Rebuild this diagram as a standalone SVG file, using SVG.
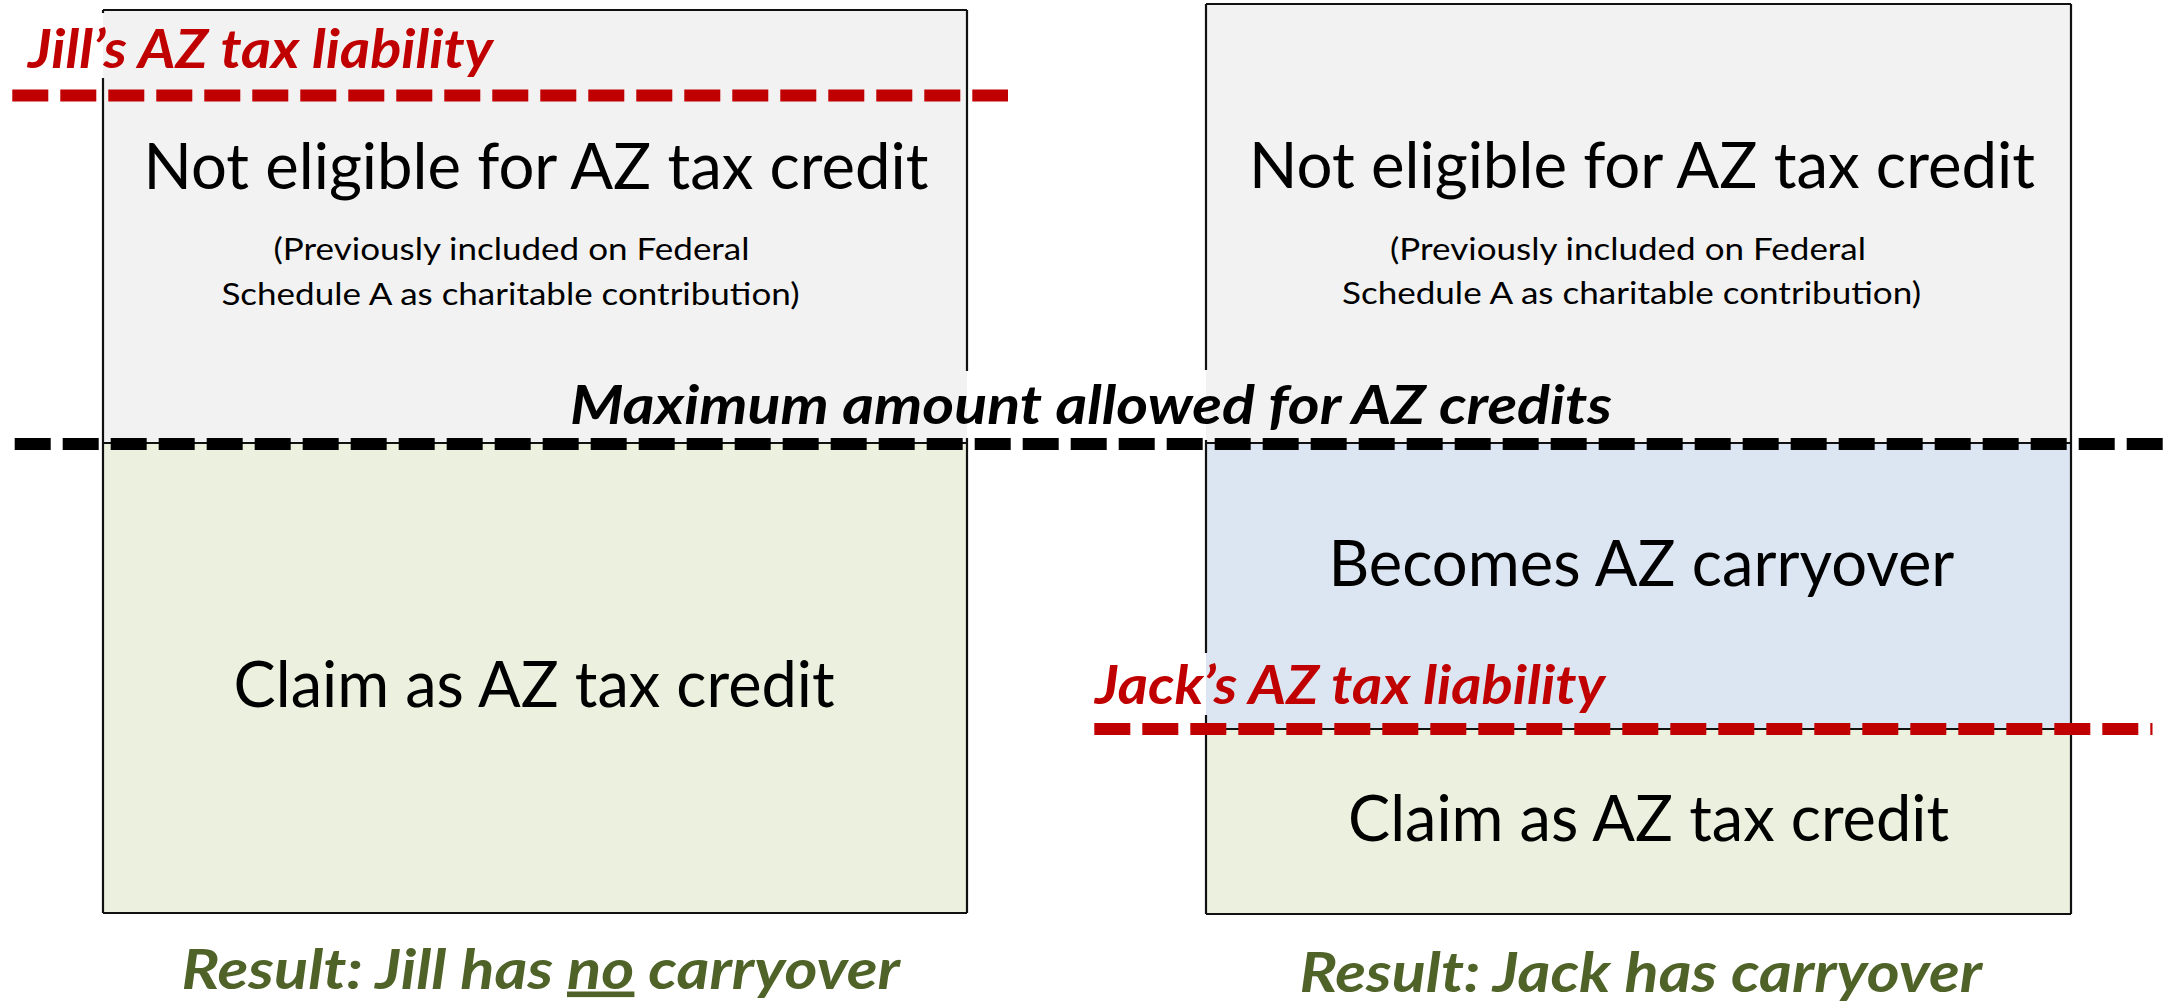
<svg xmlns="http://www.w3.org/2000/svg" width="2170" height="1003" viewBox="0 0 2170 1003">
  <defs>
    <style>
      .gray { fill: #F2F2F2; }
      .green { fill: #EBF1DE; }
      .blue { fill: #DCE6F2; }
      .border { fill: none; stroke: #111111; stroke-width: 2.2; }
      .divider { fill: none; stroke: #111111; stroke-width: 1.8; }
      .dash-red { fill: none; stroke: #C00000; stroke-width: 12; stroke-dasharray: 36 12; }
      .dash-black { fill: none; stroke: #000000; stroke-width: 12; stroke-dasharray: 36 12; }
      .label { font-family: Lato, "Liberation Sans", sans-serif; font-weight: bold; font-style: italic; font-size: 53px; }
      .red { fill: #C00000; }
      .black { fill: #000000; }
      .big { font-family: Lato, "Liberation Sans", sans-serif; font-size: 63px; fill: #000000; }
      .small { font-family: Lato, "Liberation Sans", sans-serif; font-size: 31px; fill: #000000; }
      .result { font-family: Lato, "Liberation Sans", sans-serif; font-weight: bold; font-style: italic; font-size: 56px; fill: #4F6228; }
    </style>
  </defs>
  <rect width="2170" height="1003" fill="#FFFFFF"/>

  <g id="jill-box">
    <rect class="gray" x="103" y="10" width="864" height="433"/>
    <rect class="green" x="103" y="443" width="864" height="470"/>
    <path class="divider" d="M103,443 H967"/>
    <path class="border" d="M103,10 H967 M967,10 V371 M967,438 V913 M103,913 H967 M103,10 V13 M103,78 V913"/>
    <text class="big" x="143.5" y="189" textLength="785" lengthAdjust="spacingAndGlyphs">Not eligible for AZ tax credit</text>
    <text class="small" x="273.5" y="260" textLength="476" lengthAdjust="spacingAndGlyphs">(Previously included on Federal</text>
    <text class="small" x="221.5" y="305" textLength="578" lengthAdjust="spacingAndGlyphs">Schedule A as charitable contribution)</text>
    <text class="big" x="233.6" y="707" textLength="601" lengthAdjust="spacingAndGlyphs">Claim as AZ tax credit</text>
  </g>

  <g id="jack-box">
    <rect class="gray" x="1206" y="4" width="865" height="439"/>
    <rect class="blue" x="1206" y="443" width="865" height="286"/>
    <rect class="green" x="1206" y="729" width="865" height="185"/>
    <path class="divider" d="M1206,443 H2071 M1206,729 H2071"/>
    <path class="border" d="M1206,4 H2071 M2071,4 V914 M1206,914 H2071 M1206,4 V370 M1206,440 V653 M1206,715 V914"/>
    <text class="big" x="1249" y="188" textLength="786" lengthAdjust="spacingAndGlyphs">Not eligible for AZ tax credit</text>
    <text class="small" x="1390" y="260" textLength="476" lengthAdjust="spacingAndGlyphs">(Previously included on Federal</text>
    <text class="small" x="1342" y="304" textLength="579" lengthAdjust="spacingAndGlyphs">Schedule A as charitable contribution)</text>
    <text class="big" x="1328.4" y="586" textLength="626" lengthAdjust="spacingAndGlyphs">Becomes AZ carryover</text>
    <text class="big" x="1348" y="841" textLength="601" lengthAdjust="spacingAndGlyphs">Claim as AZ tax credit</text>
  </g>

  <g id="connectors">
    <path class="dash-red" d="M12.3,95.5 H1008"/>
    <path class="dash-black" d="M14.7,444 H2170"/>
    <path class="dash-red" d="M1094.3,729 H2152.5"/>
  </g>

  <g id="jill-liability-label">
    <text class="label red" x="28" y="68" textLength="465" lengthAdjust="spacingAndGlyphs">Jill’s AZ tax liability</text>
  </g>
  <g id="max-label">
    <text class="label black" x="570" y="423.5" textLength="1042" lengthAdjust="spacingAndGlyphs">Maximum amount allowed for AZ credits</text>
  </g>
  <g id="jack-liability-label">
    <text class="label red" x="1095" y="704" textLength="510" lengthAdjust="spacingAndGlyphs">Jack’s AZ tax liability</text>
  </g>
  <g id="jill-result">
    <text class="result" x="181.5" y="988.5" textLength="718.5" lengthAdjust="spacingAndGlyphs">Result: Jill has <tspan text-decoration="underline">no</tspan> carryover</text>
  </g>
  <g id="jack-result">
    <text class="result" x="1299.5" y="992" textLength="682.5" lengthAdjust="spacingAndGlyphs">Result: Jack has carryover</text>
  </g>
</svg>
